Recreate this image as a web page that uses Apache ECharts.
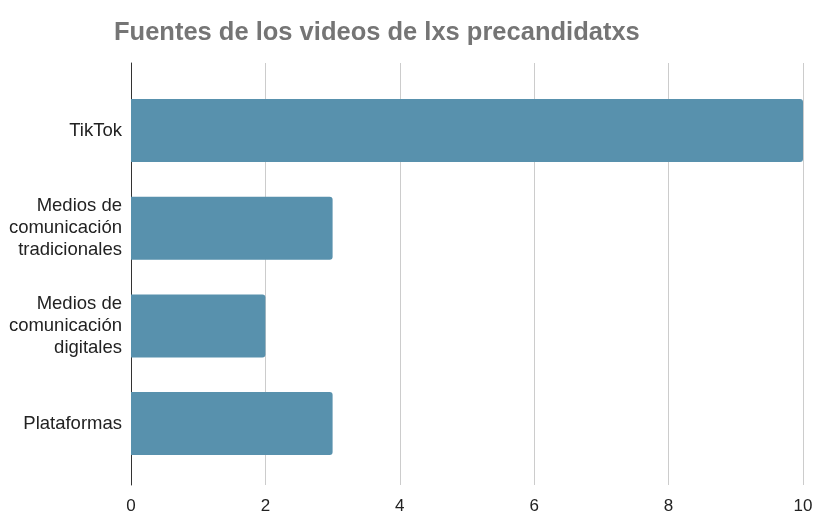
<!DOCTYPE html>
<html>
<head>
<meta charset="utf-8">
<script src="https://cdn.jsdelivr.net/npm/echarts@6/dist/echarts.min.js"></script>
<style>
  html, body { margin: 0; padding: 0; background: #fff; }
  #chart { width: 816px; height: 515px; }
</style>
</head>
<body>
<div id="chart"></div>
<script>
// datos del gráfico
var categorias = ['TikTok', 'Medios de\ncomunicación\ntradicionales', 'Medios de\ncomunicación\ndigitales', 'Plataformas'];
var valores = [10, 3, 2, 3];
var ticksX = [0, 2, 4, 6, 8, 10];

var myChart = echarts.init(document.getElementById('chart'));

var option = {
  animation: false,
  textStyle: { fontFamily: 'Liberation Sans, Arial, sans-serif' },
  title: {
    text: 'Fuentes de los videos de lxs precandidatxs',
    left: 109,
    top: 15,
    textStyle: { color: '#757575', fontSize: 25.5, fontWeight: 'bold', fontFamily: 'Liberation Sans, Arial, sans-serif' }
  },
  grid: [
    // rejilla de fondo (líneas y ejes)
    { left: 131, right: 13, top: 63, bottom: 26 },
    // rejilla de las barras
    { left: 131, right: 13, top: 81.7, bottom: 42.6 }
  ],
  xAxis: [
    {
      gridIndex: 0, type: 'value', min: ticksX[0], max: ticksX[ticksX.length - 1], interval: 2,
      axisLine: { show: false }, axisTick: { show: false },
      axisLabel: { color: '#222', fontSize: 17, margin: 13 },
      splitLine: { lineStyle: { color: '#cccccc', width: 1 } }
    },
    {
      gridIndex: 1, type: 'value', min: 0, max: 10, show: false
    }
  ],
  yAxis: [
    {
      gridIndex: 0, type: 'category', data: [''],
      axisLine: { show: true, lineStyle: { color: '#333', width: 1 } },
      axisTick: { show: false }, axisLabel: { show: false }, splitLine: { show: false }
    },
    {
      gridIndex: 1, type: 'category', data: categorias, inverse: true,
      axisLine: { show: false }, axisTick: { show: false },
      axisLabel: { color: '#222', fontSize: 18.5, lineHeight: 22, margin: 9, align: 'right' }
    }
  ],
  series: [
    {
      type: 'bar', xAxisIndex: 1, yAxisIndex: 1,
      data: valores,
      barCategoryGap: '35.5%',
      itemStyle: { color: '#5891ad', borderRadius: [0, 3, 3, 0] }
    }
  ]
};

myChart.setOption(option);
</script>
</body>
</html>
